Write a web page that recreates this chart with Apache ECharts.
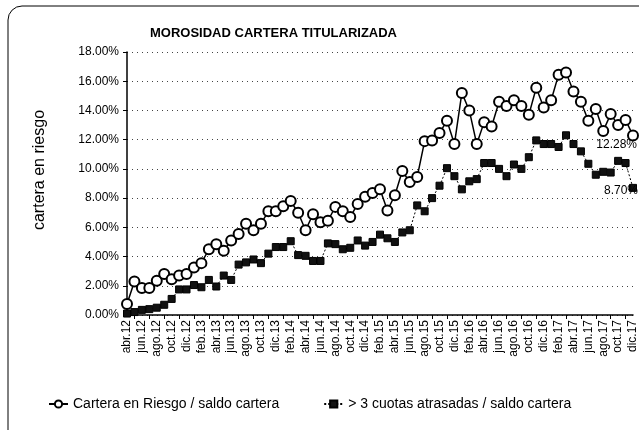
<!DOCTYPE html>
<html>
<head>
<meta charset="utf-8">
<script src="https://cdn.jsdelivr.net/npm/echarts@6/dist/echarts.min.js"></script>
<style>
html,body{margin:0;padding:0;background:#fff;}
#c{width:639px;height:430px;}
</style>
</head>
<body>
<div id="c"></div>
<script>
const categories = ["abr.12","may.12","jun.12","jul.12","ago.12","sep.12","oct.12","nov.12","dic.12",
"ene.13","feb.13","mar.13","abr.13","may.13","jun.13","jul.13","ago.13","sep.13","oct.13","nov.13","dic.13",
"ene.14","feb.14","mar.14","abr.14","may.14","jun.14","jul.14","ago.14","sep.14","oct.14","nov.14","dic.14",
"ene.15","feb.15","mar.15","abr.15","may.15","jun.15","jul.15","ago.15","sep.15","oct.15","nov.15","dic.15",
"ene.16","feb.16","mar.16","abr.16","may.16","jun.16","jul.16","ago.16","sep.16","oct.16","nov.16","dic.16",
"ene.17","feb.17","mar.17","abr.17","may.17","jun.17","jul.17","ago.17","sep.17","oct.17","nov.17","dic.17"];

const carteraRiesgo = [0.75,2.3,1.85,1.85,2.35,2.8,2.45,2.7,2.8,
3.25,3.55,4.5,4.85,4.4,5.1,5.55,6.25,5.8,6.25,7.1,7.1,
7.45,7.8,7.0,5.8,6.9,6.35,6.45,7.4,7.1,6.7,7.6,8.1,
8.35,8.6,7.15,8.2,9.85,9.1,9.45,11.9,11.95,12.45,13.3,11.7,
15.2,14.0,11.7,13.2,12.9,14.6,14.3,14.7,14.3,13.7,15.55,14.2,
14.7,16.45,16.6,15.3,14.6,13.3,14.1,12.6,13.75,13.0,13.35,12.28];

const cuotasAtrasadas = [0.1,0.2,0.35,0.4,0.5,0.7,1.1,1.75,1.75,
2.05,1.9,2.4,1.95,2.7,2.4,3.45,3.6,3.8,3.55,4.2,4.65,
4.65,5.05,4.1,4.05,3.7,3.7,4.9,4.85,4.5,4.6,5.1,4.75,
5.0,5.5,5.25,5.0,5.65,5.8,7.5,7.1,8.0,8.85,10.05,9.5,
8.6,9.15,9.3,10.4,10.4,10.0,9.5,10.3,10.0,10.8,11.95,11.7,
11.7,11.5,12.3,11.7,11.2,10.35,9.6,9.8,9.75,10.55,10.4,8.70];

const seriesNames = ["Cartera en Riesgo / saldo cartera", "> 3 cuotas atrasadas / saldo cartera"];
const titleText = "MOROSIDAD CARTERA TITULARIZADA";
const yAxisName = "cartera en riesgo";

const FONT = "'Liberation Sans', Arial, sans-serif";
const chart = echarts.init(document.getElementById('c'), null, {renderer: 'canvas'});

function withLastLabel(arr, labelCfg) {
  return arr.map((v, i) => i === arr.length - 1 ? {value: v, label: labelCfg} : v);
}

const option = {
  backgroundColor: '#fff',
  animation: false,
  title: {
    text: titleText,
    left: 145, top: 22,
    textStyle: {fontFamily: FONT, fontSize: 13, fontWeight: 'bold', color: '#000'}
  },
  legend: {
    left: 43, top: 392,
    itemWidth: 19, itemHeight: 9, itemGap: 44,
    textStyle: {fontFamily: FONT, fontSize: 14, color: '#000'},
    data: seriesNames
  },
  grid: {left: 127, right: 5, top: 52, bottom: 115},
  xAxis: {
    type: 'category',
    data: categories,
    boundaryGap: false,
    axisLine: {lineStyle: {color: '#000', width: 1.5}},
    axisTick: {show: true, length: 4, interval: (i) => i % 2 === 1, lineStyle: {color: '#000'}},
    axisLabel: {interval: 1, rotate: 90, fontFamily: FONT, fontSize: 12, color: '#000', margin: 5},
    splitLine: {show: false}
  },
  yAxis: {
    type: 'value',
    min: 0, max: 18, interval: 2,
    axisLine: {show: true, lineStyle: {color: '#000', width: 1.5}},
    axisTick: {show: true, length: 4, lineStyle: {color: '#000'}},
    axisLabel: {fontFamily: FONT, fontSize: 12, color: '#000', margin: 8, formatter: v => v.toFixed(2) + '%'},
    splitLine: {show: true, lineStyle: {color: '#444', type: [1, 4], width: 1}}
  },
  series: [
    {
      name: seriesNames[0],
      type: 'line',
      data: withLastLabel(carteraRiesgo, {
        show: true, position: [10, 9], align: 'right', verticalAlign: 'top',
        formatter: p => p.value.toFixed(2) + '%',
        fontFamily: FONT, fontSize: 12, color: '#000'
      }),
      symbol: 'circle', symbolSize: 10, showAllSymbol: true,
      lineStyle: {color: '#000', width: 1.5},
      itemStyle: {color: '#fff', borderColor: '#000', borderWidth: 2},
      z: 3
    },
    {
      name: seriesNames[1],
      type: 'line',
      data: withLastLabel(cuotasAtrasadas, {
        show: true, position: [9, 7], align: 'right', verticalAlign: 'middle',
        formatter: p => p.value.toFixed(2) + '%',
        fontFamily: FONT, fontSize: 12, color: '#000'
      }),
      symbol: 'rect', symbolSize: 7, showAllSymbol: true,
      lineStyle: {color: '#000', width: 1, type: [2, 2]},
      itemStyle: {color: '#111', borderColor: '#000', borderWidth: 1},
      z: 2
    }
  ],
  graphic: [
    {
      type: 'rect', silent: true, z: -1,
      shape: {x: 8, y: 6, width: 660, height: 440, r: 14},
      style: {fill: null, stroke: '#000', lineWidth: 1}
    },
    {
      type: 'text', silent: true,
      x: 40, y: 170, rotation: Math.PI / 2,
      style: {text: yAxisName, font: "16px 'Liberation Sans', Arial, sans-serif", fill: '#000', align: 'center', verticalAlign: 'middle'}
    }
  ]
};
chart.setOption(option);
</script>
</body>
</html>
